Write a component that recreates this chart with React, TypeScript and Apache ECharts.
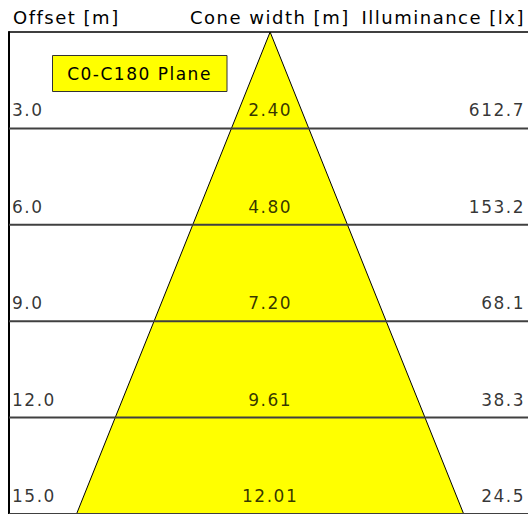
import React, { useEffect, useRef } from "react";
import * as echarts from "echarts";

const offsets = [3, 6, 9, 12, 15];
const coneWidths = [2.4, 4.8, 7.2, 9.61, 12.01];
const illuminance = [612.7, 153.2, 68.1, 38.3, 24.5];
const headers = ["Offset [m]", "Cone width [m]", "Illuminance [lx]"];
const planeName = "C0-C180 Plane";

const X_MIN = -8.1;
const X_MAX = 8.0;
const FONT = "'DejaVu Sans', Verdana, sans-serif";
const FS = 17;
const HFS = 18;

export default function App() {
  const ref = useRef<HTMLDivElement>(null);
  useEffect(() => {
    if (!ref.current) return;
    const chart = echarts.init(ref.current, undefined, { renderer: "svg" });
    const right = offsets.map((o, i) => [coneWidths[i] / 2, o]);
    const left = offsets.map((o, i) => [-coneWidths[i] / 2, o]).reverse();
    const cone = [[0, 0], ...right, ...left];
    const labelBase = {
      show: true,
      position: "inside",
      color: "#000",
      fontFamily: FONT,
      fontSize: FS,
    };
    chart.setOption({
      animation: false,
      grid: { left: 9, top: 32, right: 0, bottom: -1 },
      xAxis: {
        type: "value",
        position: "top",
        min: X_MIN,
        max: X_MAX,
        axisLine: { show: true, onZero: false, lineStyle: { color: "#000", width: 1.5 } },
        axisTick: { show: false },
        axisLabel: { show: false },
        splitLine: { show: false },
      },
      yAxis: {
        type: "value",
        inverse: true,
        min: 0,
        max: 15,
        interval: 3,
        axisLine: { show: true, onZero: false, lineStyle: { color: "#000", width: 2 } },
        axisTick: { show: false },
        axisLabel: { show: false },
        splitLine: { show: false },
      },
      graphic: [
        {
          type: "text",
          x: 13,
          y: 17.5,
          style: { text: headers[0], font: `${HFS}px ${FONT}`, fill: "#000", textAlign: "left", textVerticalAlign: "middle" },
        },
        {
          type: "text",
          x: 190,
          y: 17.5,
          style: { text: headers[1], font: `${HFS}px ${FONT}`, fill: "#000", textAlign: "left", textVerticalAlign: "middle" },
        },
        {
          type: "text",
          x: 525,
          y: 17.5,
          style: { text: headers[2], font: `${HFS}px ${FONT}`, fill: "#000", textAlign: "right", textVerticalAlign: "middle" },
        },
        {
          type: "rect",
          shape: { x: 52.5, y: 55.5, width: 174.5, height: 36 },
          style: { fill: "#ffff00", stroke: "#333", lineWidth: 1 },
          z: 100,
        },
        {
          type: "text",
          x: 139.5,
          y: 74,
          z: 101,
          style: { text: planeName, font: `${FS}px ${FONT}`, fill: "#000", textAlign: "center", textVerticalAlign: "middle" },
        },
      ],
      series: [
        {
          type: "custom",
          data: [[0, 0]],
          renderItem: (params: any, api: any) => ({
            type: "polygon",
            shape: { points: cone.map((p) => api.coord(p)) },
            style: { fill: "#ffff00", stroke: "#000", lineWidth: 1 },
          }),
          silent: true,
        },
        {
          type: "custom",
          data: offsets.map((o) => [0, o]),
          renderItem: (params: any, api: any) => {
            const y = api.coord([0, api.value(1)])[1];
            const cs = params.coordSys;
            return {
              type: "line",
              shape: { x1: cs.x, y1: y, x2: cs.x + cs.width, y2: y },
              style: { stroke: "#404040", lineWidth: 2 },
            };
          },
          silent: true,
        },
        {
          type: "scatter",
          symbolSize: 0,
          data: offsets.map((o) => [X_MIN, o]),
          label: {
            ...labelBase,
            align: "left",
            offset: [3, -18],
            formatter: (p: any) => offsets[p.dataIndex].toFixed(1),
          },
          silent: true,
        },
        {
          type: "scatter",
          symbolSize: 0,
          data: offsets.map((o) => [0, o]),
          label: {
            ...labelBase,
            align: "center",
            offset: [0, -18],
            formatter: (p: any) => coneWidths[p.dataIndex].toFixed(2),
          },
          silent: true,
        },
        {
          type: "scatter",
          symbolSize: 0,
          data: offsets.map((o) => [X_MAX, o]),
          label: {
            ...labelBase,
            align: "right",
            offset: [-3, -18],
            formatter: (p: any) => illuminance[p.dataIndex].toFixed(1),
          },
          silent: true,
        },
      ],
    });
    return () => chart.dispose();
  }, []);
  return (
    <>
      <style>{`#cone-chart text { letter-spacing: 1.5px; }`}</style>
      <div
        id="cone-chart"
        ref={ref}
        style={{ position: "fixed", left: 0, top: 0, width: 528, height: 514, background: "#fff" }}
      />
    </>
  );
}
